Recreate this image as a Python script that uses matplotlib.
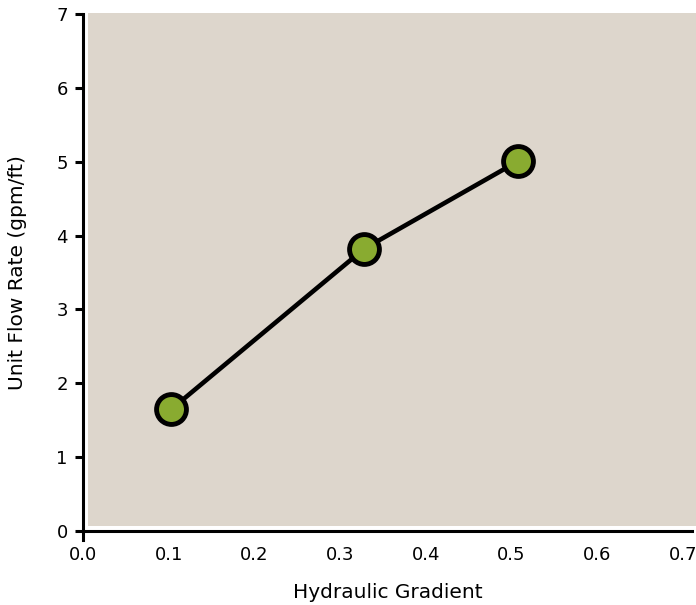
import matplotlib
matplotlib.use("Agg")
import matplotlib.pyplot as plt
from matplotlib.patches import Rectangle

# values
gradient = [0.103, 0.328, 0.508]
flow_rate = [1.644, 3.82, 5.01]
x_ticks = [0.0, 0.1, 0.2, 0.3, 0.4, 0.5, 0.6, 0.7]
y_ticks = [0, 1, 2, 3, 4, 5, 6, 7]

plt.rcParams['font.family'] = ['DejaVu Sans']

W, H = 696, 605
fig = plt.figure(figsize=(W / 100, H / 100), dpi=100)
ax = fig.add_axes([83 / W, 1 - 530.5 / H, (692 - 83) / W, (530.5 - 14.3) / H])
ax.set_facecolor('white')

# beige panel, inset a few pixels from the spines
x0, y0 = 5.3 / 609, 4.5 / 516
bg = Rectangle((x0, y0), 1.0, 1 - y0 + 1 / 516, transform=ax.transAxes,
               facecolor='#ddd6cc', edgecolor='none', zorder=0, clip_on=False)
ax.add_patch(bg)

ax.plot(gradient, flow_rate, color='black', lw=3.3, zorder=3,
        marker='o', markersize=21.5, markerfacecolor='#89ab30',
        markeredgecolor='black', markeredgewidth=3.5, clip_on=False)

ax.set_xlim(0, 0.7106)
ax.set_ylim(0, 7)
ax.set_xticks(x_ticks)
ax.set_yticks(y_ticks)
ax.set_xticklabels(['%.1f' % v for v in x_ticks])

for s in ['top', 'right']:
    ax.spines[s].set_visible(False)
for s in ['left', 'bottom']:
    ax.spines[s].set_linewidth(2.2)
    ax.spines[s].set_zorder(4)
ax.spines['left'].set_bounds(-0.13, 7)
ax.tick_params(axis='y', width=2.2, length=6, labelsize=13, pad=5)
ax.tick_params(axis='x', length=0, labelsize=13, pad=11)

fig.text(388 / W, 1 - 593 / H, 'Hydraulic Gradient', fontsize=14.5,
         ha='center', va='center')
fig.text(18 / W, 1 - 273 / H, 'Unit Flow Rate (gpm/ft)', fontsize=14.5,
         rotation=90, ha='center', va='center')

fig.savefig('out.png', dpi=100)
